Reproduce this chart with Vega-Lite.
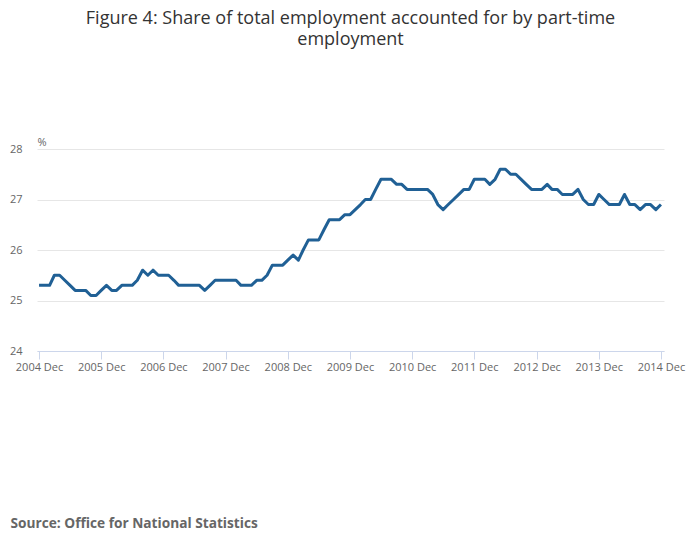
{
  "$schema": "https://vega.github.io/schema/vega-lite/v6.json",
  "width": 627,
  "height": 202,
  "autosize": {"type": "none"},
  "padding": {"left": 37, "top": 149, "right": 36, "bottom": 198},
  "background": "white",
  "config": {
    "font": "Open Sans",
    "view": {"stroke": null}
  },
  "title": {
    "text": ["Figure 4: Share of total employment accounted for by part-time", "employment"],
    "fontSize": 18,
    "fontWeight": "normal",
    "font": "Open Sans",
    "color": "#333333",
    "anchor": "middle",
    "lineHeight": 21,
    "offset": 87
  },
  "data": {
    "values": [
      {"date": "2004-12-01", "value": 25.3},
      {"date": "2005-01-01", "value": 25.3},
      {"date": "2005-02-01", "value": 25.3},
      {"date": "2005-03-01", "value": 25.5},
      {"date": "2005-04-01", "value": 25.5},
      {"date": "2005-05-01", "value": 25.4},
      {"date": "2005-06-01", "value": 25.3},
      {"date": "2005-07-01", "value": 25.2},
      {"date": "2005-08-01", "value": 25.2},
      {"date": "2005-09-01", "value": 25.2},
      {"date": "2005-10-01", "value": 25.1},
      {"date": "2005-11-01", "value": 25.1},
      {"date": "2005-12-01", "value": 25.2},
      {"date": "2006-01-01", "value": 25.3},
      {"date": "2006-02-01", "value": 25.2},
      {"date": "2006-03-01", "value": 25.2},
      {"date": "2006-04-01", "value": 25.3},
      {"date": "2006-05-01", "value": 25.3},
      {"date": "2006-06-01", "value": 25.3},
      {"date": "2006-07-01", "value": 25.4},
      {"date": "2006-08-01", "value": 25.6},
      {"date": "2006-09-01", "value": 25.5},
      {"date": "2006-10-01", "value": 25.6},
      {"date": "2006-11-01", "value": 25.5},
      {"date": "2006-12-01", "value": 25.5},
      {"date": "2007-01-01", "value": 25.5},
      {"date": "2007-02-01", "value": 25.4},
      {"date": "2007-03-01", "value": 25.3},
      {"date": "2007-04-01", "value": 25.3},
      {"date": "2007-05-01", "value": 25.3},
      {"date": "2007-06-01", "value": 25.3},
      {"date": "2007-07-01", "value": 25.3},
      {"date": "2007-08-01", "value": 25.2},
      {"date": "2007-09-01", "value": 25.3},
      {"date": "2007-10-01", "value": 25.4},
      {"date": "2007-11-01", "value": 25.4},
      {"date": "2007-12-01", "value": 25.4},
      {"date": "2008-01-01", "value": 25.4},
      {"date": "2008-02-01", "value": 25.4},
      {"date": "2008-03-01", "value": 25.3},
      {"date": "2008-04-01", "value": 25.3},
      {"date": "2008-05-01", "value": 25.3},
      {"date": "2008-06-01", "value": 25.4},
      {"date": "2008-07-01", "value": 25.4},
      {"date": "2008-08-01", "value": 25.5},
      {"date": "2008-09-01", "value": 25.7},
      {"date": "2008-10-01", "value": 25.7},
      {"date": "2008-11-01", "value": 25.7},
      {"date": "2008-12-01", "value": 25.8},
      {"date": "2009-01-01", "value": 25.9},
      {"date": "2009-02-01", "value": 25.8},
      {"date": "2009-03-01", "value": 26.0},
      {"date": "2009-04-01", "value": 26.2},
      {"date": "2009-05-01", "value": 26.2},
      {"date": "2009-06-01", "value": 26.2},
      {"date": "2009-07-01", "value": 26.4},
      {"date": "2009-08-01", "value": 26.6},
      {"date": "2009-09-01", "value": 26.6},
      {"date": "2009-10-01", "value": 26.6},
      {"date": "2009-11-01", "value": 26.7},
      {"date": "2009-12-01", "value": 26.7},
      {"date": "2010-01-01", "value": 26.8},
      {"date": "2010-02-01", "value": 26.9},
      {"date": "2010-03-01", "value": 27.0},
      {"date": "2010-04-01", "value": 27.0},
      {"date": "2010-05-01", "value": 27.2},
      {"date": "2010-06-01", "value": 27.4},
      {"date": "2010-07-01", "value": 27.4},
      {"date": "2010-08-01", "value": 27.4},
      {"date": "2010-09-01", "value": 27.3},
      {"date": "2010-10-01", "value": 27.3},
      {"date": "2010-11-01", "value": 27.2},
      {"date": "2010-12-01", "value": 27.2},
      {"date": "2011-01-01", "value": 27.2},
      {"date": "2011-02-01", "value": 27.2},
      {"date": "2011-03-01", "value": 27.2},
      {"date": "2011-04-01", "value": 27.1},
      {"date": "2011-05-01", "value": 26.9},
      {"date": "2011-06-01", "value": 26.8},
      {"date": "2011-07-01", "value": 26.9},
      {"date": "2011-08-01", "value": 27.0},
      {"date": "2011-09-01", "value": 27.1},
      {"date": "2011-10-01", "value": 27.2},
      {"date": "2011-11-01", "value": 27.2},
      {"date": "2011-12-01", "value": 27.4},
      {"date": "2012-01-01", "value": 27.4},
      {"date": "2012-02-01", "value": 27.4},
      {"date": "2012-03-01", "value": 27.3},
      {"date": "2012-04-01", "value": 27.4},
      {"date": "2012-05-01", "value": 27.6},
      {"date": "2012-06-01", "value": 27.6},
      {"date": "2012-07-01", "value": 27.5},
      {"date": "2012-08-01", "value": 27.5},
      {"date": "2012-09-01", "value": 27.4},
      {"date": "2012-10-01", "value": 27.3},
      {"date": "2012-11-01", "value": 27.2},
      {"date": "2012-12-01", "value": 27.2},
      {"date": "2013-01-01", "value": 27.2},
      {"date": "2013-02-01", "value": 27.3},
      {"date": "2013-03-01", "value": 27.2},
      {"date": "2013-04-01", "value": 27.2},
      {"date": "2013-05-01", "value": 27.1},
      {"date": "2013-06-01", "value": 27.1},
      {"date": "2013-07-01", "value": 27.1},
      {"date": "2013-08-01", "value": 27.2},
      {"date": "2013-09-01", "value": 27.0},
      {"date": "2013-10-01", "value": 26.9},
      {"date": "2013-11-01", "value": 26.9},
      {"date": "2013-12-01", "value": 27.1},
      {"date": "2014-01-01", "value": 27.0},
      {"date": "2014-02-01", "value": 26.9},
      {"date": "2014-03-01", "value": 26.9},
      {"date": "2014-04-01", "value": 26.9},
      {"date": "2014-05-01", "value": 27.1},
      {"date": "2014-06-01", "value": 26.9},
      {"date": "2014-07-01", "value": 26.9},
      {"date": "2014-08-01", "value": 26.8},
      {"date": "2014-09-01", "value": 26.9},
      {"date": "2014-10-01", "value": 26.9},
      {"date": "2014-11-01", "value": 26.8},
      {"date": "2014-12-01", "value": 26.9}
    ]
  },
  "mark": {"type": "line", "color": "#206095", "strokeWidth": 3, "strokeJoin": "round", "clip": false},
  "encoding": {
    "x": {
      "field": "date",
      "type": "temporal",
      "scale": {
        "type": "utc",
        "domain": [
          {"year": 2004, "month": 11, "date": 19, "utc": true},
          {"year": 2014, "month": 12, "date": 19, "utc": true}
        ]
      },
      "axis": {
        "values": [
          {"year": 2004, "month": 12, "date": 1, "utc": true},
          {"year": 2005, "month": 12, "date": 1, "utc": true},
          {"year": 2006, "month": 12, "date": 1, "utc": true},
          {"year": 2007, "month": 12, "date": 1, "utc": true},
          {"year": 2008, "month": 12, "date": 1, "utc": true},
          {"year": 2009, "month": 12, "date": 1, "utc": true},
          {"year": 2010, "month": 12, "date": 1, "utc": true},
          {"year": 2011, "month": 12, "date": 1, "utc": true},
          {"year": 2012, "month": 12, "date": 1, "utc": true},
          {"year": 2013, "month": 12, "date": 1, "utc": true},
          {"year": 2014, "month": 12, "date": 1, "utc": true}
        ],
        "labelExpr": "utcFormat(datum.value, '%Y %b')",
        "grid": false,
        "domainColor": "#ccd6eb",
        "domainWidth": 1,
        "tickColor": "#ccd6eb",
        "tickSize": 8,
        "labelFontSize": 11,
        "labelColor": "#666666",
        "labelPadding": 2,
        "labelFlush": false,
        "title": "Source: Office for National Statistics",
        "titleFontSize": 13.7,
        "titleFontWeight": "bold",
        "titleColor": "#666666",
        "titleAnchor": "start",
        "titleAlign": "left",
        "titleBaseline": "alphabetic",
        "titleX": -27,
        "titleY": 176
      }
    },
    "y": {
      "field": "value",
      "type": "quantitative",
      "scale": {"domain": [24, 28], "nice": false, "zero": false},
      "axis": {
        "values": [24, 25, 26, 27, 28],
        "grid": true,
        "gridColor": "#e6e6e6",
        "domain": false,
        "ticks": false,
        "labelFontSize": 11,
        "labelColor": "#666666",
        "labelPadding": 15,
        "title": "%",
        "titleAngle": 0,
        "titleAlign": "left",
        "titleBaseline": "alphabetic",
        "titleX": 0,
        "titleY": -4,
        "titleFontSize": 11,
        "titleFontWeight": "normal",
        "titleColor": "#666666"
      }
    }
  }
}
